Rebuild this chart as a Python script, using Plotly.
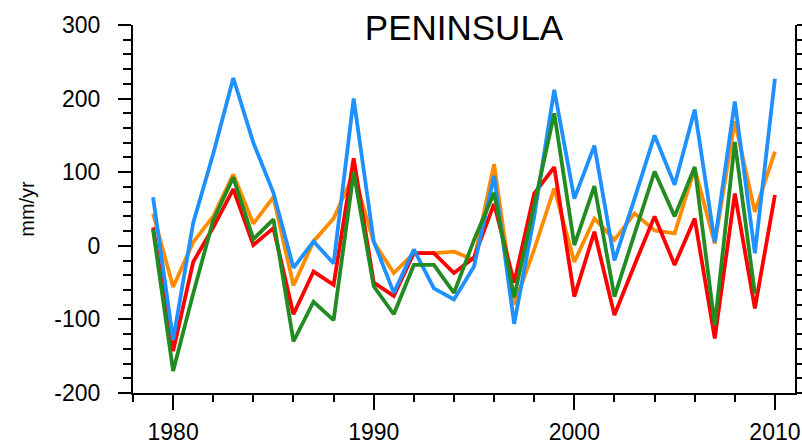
import plotly.graph_objects as go

# Annual anomalies (mm/yr), 1979-2010
years = list(range(1979, 2011))

orange_vals = [44, -56, 5, 40, 97, 30, 66, -54, 6, 37, 98, 5, -37, -10, -10, -8,
               -19, 111, -80, -5, 78, -22, 37, 8, 44, 21, 17, 105, 3, 169, 46, 128]
red_vals = [25, -143, -22, 25, 77, 1, 24, -93, -35, -53, 119, -50, -68, -10, -10, -37,
            -16, 57, -50, 71, 107, -69, 19, -94, -26, 40, -26, 37, -126, 71, -85, 69]
blue_vals = [66, -128, 31, 125, 228, 140, 72, -30, 6, -24, 200, 6, -64, -5, -58, -73,
             -28, 95, -106, 40, 212, 64, 136, -20, 64, 150, 83, 185, 5, 196, -10, 227]
green_vals = [22, -170, -65, 35, 93, 9, 36, -130, -76, -101, 100, -55, -93, -26, -26, -64,
              8, 72, -70, 55, 180, 1, 81, -69, 17, 101, 40, 107, -108, 141, -65, None]

y_tickvals = [-200, -100, 0, 100, 200, 300]
y_ticktext = ["-200", "-100", "0", "100", "200", "300"]
x_tickvals = [1980, 1990, 2000, 2010]
x_ticktext = ["1980", "1990", "2000", "2010"]

FONT = "Liberation Sans, Arial, Helvetica, sans-serif"

fig = go.Figure()
series = [
    (orange_vals, "#FF8C00"),
    (red_vals, "#FF0000"),
    (blue_vals, "#1E90FF"),
    (green_vals, "#228B22"),
]
for vals, color in series:
    fig.add_trace(go.Scatter(
        x=years, y=vals, mode="lines",
        line=dict(color=color, width=3.8),
        connectgaps=False, showlegend=False, hoverinfo="skip",
    ))

fig.update_layout(
    width=802, height=446,
    margin=dict(l=133, r=7, t=25, b=53),
    paper_bgcolor="white", plot_bgcolor="white",
    font=dict(family=FONT, color="black"),
    title=dict(
        text="PENINSULA", font=dict(size=35, family=FONT, color="black"),
        x=0.5, xref="paper", xanchor="center",
        y=1 - 28 / 446, yref="container", yanchor="middle",
    ),
    xaxis=dict(
        range=[1978, 2011], showgrid=False, zeroline=False, automargin=False,
        showline=True, linecolor="black", linewidth=2,
        tickmode="array", tickvals=x_tickvals, ticktext=x_ticktext,
        ticks="outside", ticklen=15, tickwidth=2, tickcolor="black",
        tickfont=dict(size=23, family=FONT, color="black"),
        ticklabelstandoff=2,
        minor=dict(dtick=2, tick0=1978, ticks="outside", ticklen=7,
                   tickwidth=2, tickcolor="black", showgrid=False),
    ),
    yaxis=dict(
        range=[-200, 300], showgrid=False, zeroline=False, automargin=False,
        showline=True, linecolor="black", linewidth=2, mirror="ticks",
        tickmode="array", tickvals=y_tickvals, ticktext=y_ticktext,
        ticks="outside", ticklen=13, tickwidth=2, tickcolor="black",
        tickfont=dict(size=23, family=FONT, color="black"),
        ticklabelstandoff=13,
        minor=dict(dtick=20, tick0=0, ticks="outside", ticklen=8,
                   tickwidth=2, tickcolor="black", showgrid=False),
        title=dict(text="mm/yr", font=dict(size=20, family=FONT, color="black"),
                   standoff=14),
    ),
)

fig.write_html("out.html")
